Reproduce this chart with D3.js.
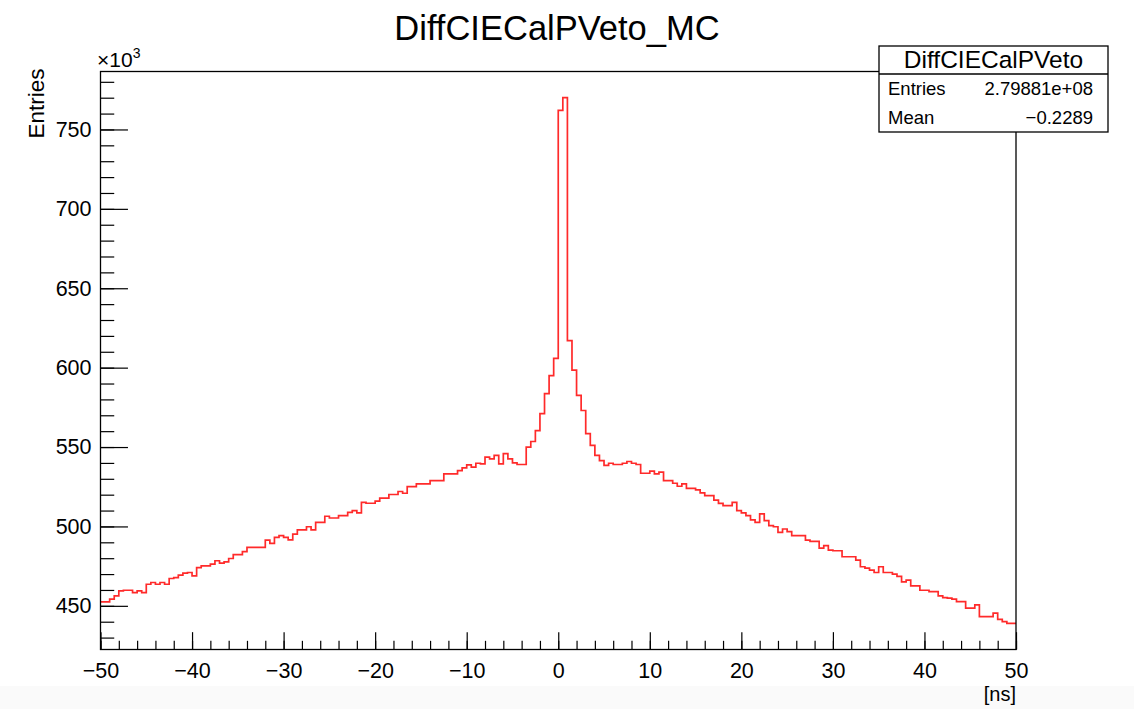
<!DOCTYPE html>
<html>
<head>
<meta charset="utf-8">
<script src="https://cdnjs.cloudflare.com/ajax/libs/d3/7.8.5/d3.min.js"></script>
<style>
  body { margin: 0; background: #ffffff; }
  text { font-family: "Liberation Sans", Arial, Helvetica, sans-serif; fill: #000; }
</style>
</head>
<body>
<svg id="main_view_svg" width="1134" height="709"></svg>
<script>

// DATA

var chart_title = "DiffCIECalPVeto_MC";
var stats_name = "DiffCIECalPVeto";
var stats_labels = ["Entries", "Mean"];
var stats_values = ["2.79881e+08", "\u22120.2289"];
var x_title = "[ns]";
var y_title = "Entries";

var x_min = -50, x_max = 50;
var y_min = 422.5, y_max = 786.5;   // in units of 10^3
var x_major_ticks = [-50, -40, -30, -20, -10, 0, 10, 20, 30, 40, 50];
var y_major_ticks = [450, 500, 550, 600, 650, 700, 750];

// bin contents (x10^3), 200 bins of 0.5 ns from -50 to 50
var bin_values = [
  452.5, 452.5, 454.2, 456.3, 459.4, 459.8, 459.8, 458.3, 459.4, 458.3,
  463.6, 464.7, 463.6, 464.7, 463.6, 467.2, 467.8, 469.3, 470.6, 471.0,
  468.9, 474.1, 475.2, 475.2, 476.3, 478.4, 476.9, 477.7, 479.8, 482.2,
  482.2, 484.2, 486.8, 486.8, 486.8, 486.8, 491.4, 489.3, 493.1, 494.2,
  493.1, 491.6, 495.2, 497.8, 497.8, 499.8, 497.8, 502.6, 502.6, 506.4,
  505.3, 505.3, 506.8, 506.8, 508.9, 510.0, 508.5, 515.2, 514.6, 514.6,
  515.9, 517.8, 517.8, 520.1, 520.1, 522.0, 520.9, 525.1, 525.1, 526.8,
  526.8, 526.8, 528.9, 528.9, 528.9, 533.1, 533.1, 533.1, 535.2, 536.9,
  538.8, 537.3, 539.8, 539.4, 543.6, 542.5, 544.7, 539.4, 545.8, 542.5,
  540.0, 539.0, 539.0, 550.0, 553.5, 560.3, 571.0, 583.7, 595.0, 605.8,
  762.0, 770.0, 617.0, 598.4, 582.6, 573.0, 558.4, 551.0, 544.7, 541.5,
  538.4, 539.8, 539.0, 539.0, 539.8, 540.9, 539.8, 539.0, 533.5, 533.5,
  534.8, 533.1, 534.2, 528.9, 528.9, 527.2, 525.3, 526.8, 524.0, 524.0,
  523.0, 521.1, 519.4, 519.4, 516.6, 514.5, 513.1, 513.1, 515.2, 510.0,
  508.5, 506.8, 504.1, 502.6, 507.9, 503.6, 500.5, 499.8, 496.3, 498.4,
  496.7, 494.2, 494.2, 494.2, 491.4, 490.6, 490.6, 486.4, 487.9, 485.1,
  484.7, 484.7, 480.9, 480.9, 480.9, 478.8, 474.6, 473.8, 472.5, 471.0,
  474.6, 471.0, 471.0, 470.0, 468.5, 465.1, 466.2, 462.6, 462.6, 459.8,
  459.8, 459.0, 459.0, 456.3, 455.2, 454.8, 454.2, 452.7, 452.7, 448.5,
  448.5, 450.6, 443.2, 443.2, 443.2, 445.4, 441.5, 440.0, 439.0, 439.0
];

// LAYOUT

var frame = {left: 100.5, right: 1016, top: 71.5, bottom: 649.5};
var frame_w = frame.right - frame.left;
var frame_h = frame.bottom - frame.top;

var svg = d3.select("#main_view_svg");

// faint grey strip at the bottom of the screenshot
svg.append("rect")
  .attr("x", 0).attr("y", 686)
  .attr("width", 1134).attr("height", 23)
  .attr("fill", "#fafafa");

var x = d3.scaleLinear().domain([x_min, x_max]).range([frame.left, frame.right]);
var y = d3.scaleLinear().domain([y_min, y_max]).range([frame.bottom, frame.top]);

function root_minus(v){
  return (v < 0 ? "\u2212" : "") + Math.abs(v);
};

// AXES (ROOT style: ticks inside the frame)

var x_minor = d3.range(x_min, x_max + 0.001, 2);
var y_minor = d3.range(430, y_max, 10);

svg.append("g")
  .attr("transform", "translate(0," + frame.bottom + ")")
  .call(d3.axisBottom(x).tickValues(x_minor).tickSize(-0.015 * frame_h).tickFormat(""))
  .call(function(g){ g.select(".domain").remove(); });

svg.append("g")
  .attr("class", "x_axis")
  .attr("transform", "translate(0," + frame.bottom + ")")
  .call(d3.axisBottom(x).tickValues(x_major_ticks).tickSize(-0.03 * frame_h).tickPadding(13).tickFormat(root_minus))
  .call(function(g){ g.select(".domain").remove(); });

svg.append("g")
  .attr("transform", "translate(" + frame.left + ",0)")
  .call(d3.axisLeft(y).tickValues(y_minor).tickSize(-0.015 * frame_w).tickFormat(""))
  .call(function(g){ g.select(".domain").remove(); });

svg.append("g")
  .attr("class", "y_axis")
  .attr("transform", "translate(" + frame.left + ",0)")
  .call(d3.axisLeft(y).tickValues(y_major_ticks).tickSize(-0.03 * frame_w).tickPadding(9))
  .call(function(g){ g.select(".domain").remove(); });

svg.selectAll(".tick line").attr("stroke", "#000").attr("stroke-width", 1.2);
svg.selectAll(".x_axis text, .y_axis text")
  .style("font-size", "21.5px")
  .attr("fill", "#000");

// HISTOGRAM

var bin_width = (x_max - x_min) / bin_values.length;
var points = bin_values.map(function(v, i){ return [x_min + i * bin_width, v]; });
points.push([x_max, bin_values[bin_values.length - 1]]);

var hist_line = d3.line()
  .x(function(d){ return x(d[0]); })
  .y(function(d){ return y(d[1]); })
  .curve(d3.curveStepAfter);

svg.append("path")
  .datum(points)
  .attr("d", hist_line)
  .attr("fill", "none")
  .attr("stroke", "#ff2a2a")
  .attr("stroke-width", 1.7);

// frame
svg.append("rect")
  .attr("x", frame.left).attr("y", frame.top)
  .attr("width", frame_w).attr("height", frame_h)
  .attr("fill", "none")
  .attr("stroke", "#000")
  .attr("stroke-width", 1.3);

// TEXTS

svg.append("text")
  .attr("x", 557).attr("y", 40)
  .attr("text-anchor", "middle")
  .style("font-size", "34.5px")
  .text(chart_title);

svg.append("text")
  .attr("transform", "translate(44," + (frame.top - 3) + ") rotate(-90)")
  .attr("text-anchor", "end")
  .style("font-size", "22.5px")
  .text(y_title);

svg.append("text")
  .attr("x", frame.right).attr("y", 701)
  .attr("text-anchor", "end")
  .style("font-size", "20px")
  .text(x_title);

var exp_label = svg.append("text")
  .attr("x", 97).attr("y", 67)
  .style("font-size", "21px");
exp_label.append("tspan").text("\u00d710");
exp_label.append("tspan").attr("dy", -9).style("font-size", "14px").text("3");

// STATS BOX

var stats = {left: 879, top: 46, width: 229, header: 28, row: 29};

var stats_g = svg.append("g");
stats_g.append("rect")
  .attr("x", stats.left).attr("y", stats.top)
  .attr("width", stats.width).attr("height", stats.header + stats.row * stats_labels.length)
  .attr("fill", "#fff")
  .attr("stroke", "#000")
  .attr("stroke-width", 1.3);

stats_g.append("line")
  .attr("x1", stats.left).attr("x2", stats.left + stats.width)
  .attr("y1", stats.top + stats.header).attr("y2", stats.top + stats.header)
  .attr("stroke", "#000")
  .attr("stroke-width", 1.3);

stats_g.append("text")
  .attr("x", stats.left + stats.width / 2).attr("y", stats.top + 22)
  .attr("text-anchor", "middle")
  .style("font-size", "24.5px")
  .text(stats_name);

stats_labels.forEach(function(label, i){
  var row_y = stats.top + stats.header + stats.row * i + 21;
  stats_g.append("text")
    .attr("x", stats.left + 9).attr("y", row_y)
    .style("font-size", "18.5px")
    .text(label);
  stats_g.append("text")
    .attr("x", stats.left + stats.width - 15).attr("y", row_y)
    .attr("text-anchor", "end")
    .style("font-size", "18.5px")
    .text(stats_values[i]);
});

</script>
</body>
</html>
